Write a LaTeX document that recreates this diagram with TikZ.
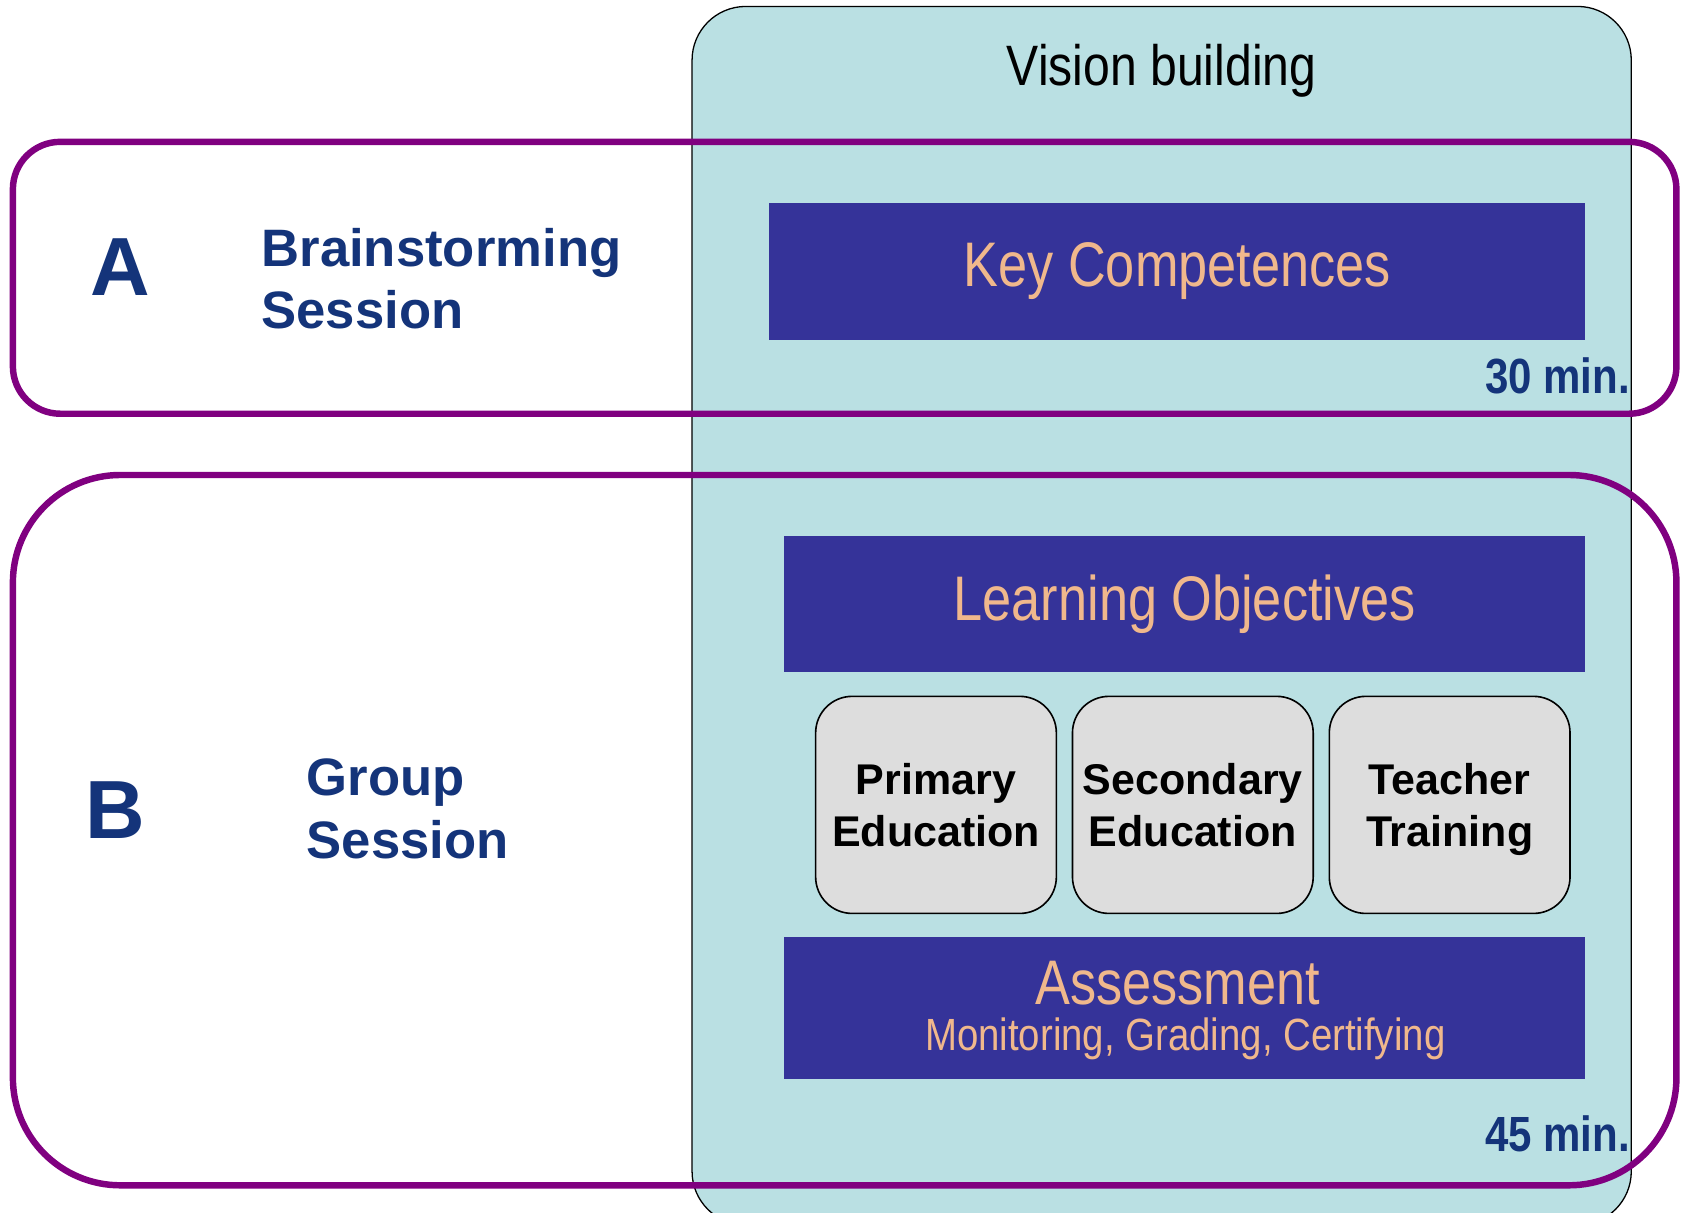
\documentclass[tikz,border=0pt]{standalone}
\usepackage{fontspec}
\setmainfont{Liberation Sans}
\definecolor{teal1}{RGB}{186,224,227}
\definecolor{boxblue}{RGB}{53,51,153}
\definecolor{peach}{RGB}{240,184,140}
\definecolor{frame}{RGB}{128,0,128}
\definecolor{navy}{RGB}{20,52,122}
\definecolor{grayfill}{RGB}{221,221,221}
\tikzset{
  bluebox/.style={fill=boxblue, draw=none, inner sep=0pt, text=peach, align=center},
  peachtext/.style={text=peach, inner sep=0pt, anchor=base},
  graybox/.style={fill=grayfill, draw=black, line width=0.75pt, rounded corners=17pt, inner sep=0pt,
    minimum width=112pt, minimum height=101pt, align=center, text depth=0pt,
    font=\fontsize{20}{24}\selectfont\bfseries},
  frameA/.style={draw=frame, line width=3pt, inner sep=0pt},
  navytext/.style={text=navy, inner sep=0pt, font=\bfseries},
}
\begin{document}
\begin{tikzpicture}[x=0.5pt,y=-0.5pt]
\useasboundingbox (0,0) rectangle (1568,1128);
\clip (0,0) rectangle (1568,1128);
\fill[white] (0,0) rectangle (1568,1128);
% teal panel
\node[fill=teal1, draw=black, line width=0.6pt, rounded corners=25pt, inner sep=0pt,
  minimum width=437pt, minimum height=567pt] (panel) at (1081,573) {};
\node[inner sep=0pt, anchor=base, font=\fontsize{26.5}{30}\selectfont] (vision) at (1081,80)
  {\scalebox{0.845}[1]{Vision building}};
% purple frames
\node[frameA, rounded corners=22pt, minimum width=774pt, minimum height=126.5pt] (frA) at (786,258.5) {};
\node[frameA, rounded corners=50pt, minimum width=774pt, minimum height=330.5pt] (frB) at (786,772.5) {};
% blue boxes
\node[bluebox, minimum width=379.5pt, minimum height=63.5pt, font=\fontsize{29.3}{34}\selectfont] (kc) at (1095.5,252.5)
  {\scalebox{0.83}[1]{Key Competences}};
\node[bluebox, minimum width=372.5pt, minimum height=63pt, font=\fontsize{29.3}{34}\selectfont] (lo) at (1102.5,562)
  {\scalebox{0.83}[1]{Learning Objectives}};
\node[bluebox, minimum width=372.5pt, minimum height=66pt] (as) at (1102.5,938) {};
\node[peachtext, font=\fontsize{29.3}{30}\selectfont] (as1) at (1096,935) {\scalebox{0.83}[1]{Assessment}};
\node[peachtext, font=\fontsize{21}{22}\selectfont] (as2) at (1103,978) {\scalebox{0.85}[1]{Monitoring, Grading, Certifying}};
% gray boxes
\node[graybox] (prim) at (871,749) {Primary\\Education};
\node[graybox] (sec) at (1110,749) {Secondary\\Education};
\node[graybox] (teach) at (1349,749) {Teacher\\Training};
% durations
\node[navytext, anchor=base east, font=\fontsize{23}{26}\selectfont\bfseries] (t30) at (1517,366)
  {\scalebox{0.85}[1]{30 min.}};
\node[navytext, anchor=base east, font=\fontsize{23}{26}\selectfont\bfseries] (t45) at (1517,1072)
  {\scalebox{0.85}[1]{45 min.}};
% left labels
\node[navytext, anchor=base, font=\fontsize{38.4}{40}\selectfont\bfseries] (la) at (112,275) {A};
\node[navytext, anchor=base west, font=\fontsize{24.5}{29}\selectfont\bfseries] (bs1) at (243,248) {Brainstorming};
\node[navytext, anchor=base west, font=\fontsize{24.5}{29}\selectfont\bfseries] (bs2) at (243,306) {Session};
\node[navytext, anchor=base, font=\fontsize{38.4}{40}\selectfont\bfseries] (lb) at (107,780) {B};
\node[navytext, anchor=base west, font=\fontsize{24.5}{29}\selectfont\bfseries] (gs1) at (285,740) {Group};
\node[navytext, anchor=base west, font=\fontsize{24.5}{29}\selectfont\bfseries] (gs2) at (285,799) {Session};
\end{tikzpicture}
\end{document}
